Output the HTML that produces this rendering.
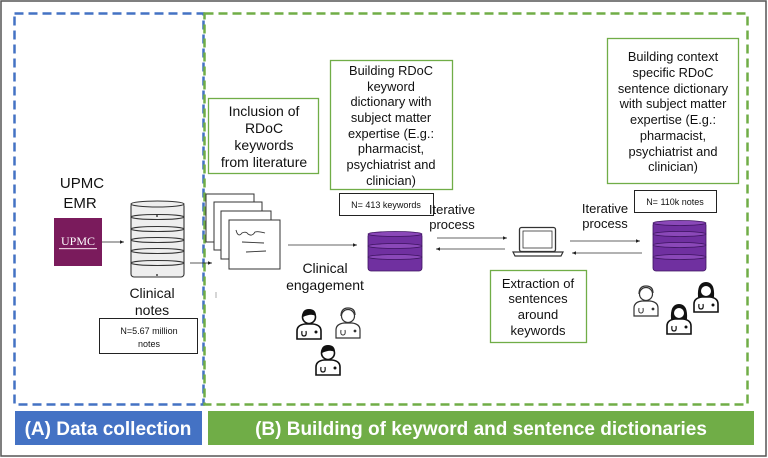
<!DOCTYPE html>
<html><head><meta charset="utf-8"><style>
html,body{margin:0;padding:0;background:#fff}
svg{display:block}
text{font-family:"Liberation Sans",sans-serif;fill:#111}
</style></head><body>
<svg width="768" height="458" viewBox="0 0 768 458" xmlns="http://www.w3.org/2000/svg">
<defs>
<marker id="ah" markerWidth="6" markerHeight="6" refX="5" refY="3" orient="auto"><path d="M0,0.8 L5,3 L0,5.2 z" fill="#222"/></marker>
<g id="docF">
<path d="M2,32 L2,24 Q2,18 10,17 L18,17 Q26,18 26,24 L26,32 z" fill="#fff" stroke="#111" stroke-width="1.6"/>
<circle cx="14" cy="10" r="6.5" fill="#fff" stroke="#111" stroke-width="1.6"/>
<path d="M7,10 Q7,2 14,2 Q21,2 21,9 Q16,6 8,10 z" fill="#111"/>
<path d="M7,24 Q6,29 9,29 M9,29 Q12,29 11,24" fill="none" stroke="#111" stroke-width="1.2"/>
<circle cx="21" cy="25" r="1.5" fill="#111"/>
</g>
<g id="docO">
<path d="M2,32 L2,24 Q2,18 10,17 L18,17 Q26,18 26,24 L26,32 z" fill="#fff" stroke="#333" stroke-width="1.2"/>
<circle cx="14" cy="10" r="6.5" fill="#fff" stroke="#333" stroke-width="1.2"/>
<path d="M7,10 Q7,2 14,2 Q21,2 21,9" fill="none" stroke="#333" stroke-width="1.2"/>
<path d="M7,24 Q6,29 9,29 M9,29 Q12,29 11,24" fill="none" stroke="#333" stroke-width="1"/>
<circle cx="21" cy="25" r="1.4" fill="#333"/>
</g>
<g id="docW">
<path d="M2,32 L2,24 Q2,18 10,17 L18,17 Q26,18 26,24 L26,32 z" fill="#fff" stroke="#111" stroke-width="1.6"/>
<path d="M6,17 Q5,2 14,2 Q23,2 22,17 z" fill="#111"/>
<circle cx="14" cy="11" r="5" fill="#fff"/>
<path d="M7,24 Q6,29 9,29 M9,29 Q12,29 11,24" fill="none" stroke="#111" stroke-width="1.2"/>
<circle cx="21" cy="25" r="1.5" fill="#111"/>
</g>
</defs>
<rect x="1" y="1" width="765" height="455" fill="none" stroke="#555" stroke-width="1.5"/>
<rect x="14.5" y="13.5" width="189" height="391" fill="none" stroke="#4472c4" stroke-width="2.5" stroke-dasharray="9,5"/>
<rect x="204.5" y="13.5" width="543" height="391" fill="none" stroke="#70ad47" stroke-width="2.5" stroke-dasharray="9,5"/>
<rect x="15" y="411" width="187" height="34" fill="#4472c4"/>
<text x="108" y="435" text-anchor="middle" font-size="19" font-weight="bold" style="fill:#fff">(A) Data collection</text>
<rect x="208" y="411" width="546" height="34" fill="#70ad47"/>
<text x="481" y="435" text-anchor="middle" font-size="19" font-weight="bold" style="fill:#fff">(B) Building of keyword and sentence dictionaries</text>
<text x="82" y="188" text-anchor="middle" font-size="15">UPMC</text>
<text x="80" y="208" text-anchor="middle" font-size="15">EMR</text>
<rect x="54" y="218" width="48" height="48" fill="#7a1b5c"/>
<text x="78" y="245" text-anchor="middle" font-size="12" style="fill:#fff;font-family:'Liberation Serif',serif">UPMC</text>
<rect x="59" y="248" width="38" height="1.2" fill="#e8c8dc"/>
<line x1="102" y1="242" x2="124" y2="242" stroke="#222" stroke-width="0.8" marker-end="url(#ah)"/>
<g fill="#eee" stroke="#333" stroke-width="1.1">
<rect x="131" y="203" width="53" height="74" rx="3"/>
<ellipse cx="157.5" cy="204" rx="26.5" ry="3"/>
<ellipse cx="157.5" cy="217" rx="26.5" ry="2.5"/>
<ellipse cx="157.5" cy="229" rx="26.5" ry="2.5"/>
<ellipse cx="157.5" cy="240" rx="26.5" ry="2.5"/>
<ellipse cx="157.5" cy="251" rx="26.5" ry="2.5"/>
<ellipse cx="157.5" cy="263" rx="26.5" ry="2.5"/>
</g>
<circle cx="157" cy="216" r="0.9" fill="#111"/><circle cx="157" cy="275" r="0.9" fill="#111"/>
<text x="152" y="298" text-anchor="middle" font-size="14">Clinical</text>
<text x="152" y="315" text-anchor="middle" font-size="14">notes</text>
<rect x="99.5" y="318.5" width="98" height="35" fill="#fff" stroke="#222" stroke-width="1"/>
<text x="149" y="334" text-anchor="middle" font-size="9">N=5.67 million</text>
<text x="149" y="347" text-anchor="middle" font-size="9">notes</text>
<line x1="190" y1="263" x2="212" y2="263" stroke="#222" stroke-width="0.8" marker-end="url(#ah)"/>
<g fill="#fff" stroke="#333" stroke-width="1">
<rect x="206" y="194" width="48" height="48"/>
<rect x="214" y="202" width="48" height="48"/>
<rect x="221" y="211" width="50" height="48"/>
<rect x="229" y="220" width="51" height="49"/>
</g>
<path d="M236,230 Q238,238 242,233 Q246,231 248,234 Q252,237 255,232 Q258,231 265,233" fill="none" stroke="#333" stroke-width="0.9"/>
<line x1="242" y1="242" x2="264" y2="243" stroke="#333" stroke-width="0.9"/>
<line x1="246" y1="252" x2="266" y2="251" stroke="#333" stroke-width="0.9"/>
<line x1="216" y1="292" x2="216" y2="298" stroke="#999" stroke-width="0.8"/>
<rect x="208.5" y="98.5" width="110" height="75" fill="#fff" stroke="#70ad47" stroke-width="1.3"/>
<g font-size="14" text-anchor="middle">
<text x="264" y="116">Inclusion of</text>
<text x="264" y="133">RDoC</text>
<text x="264" y="150">keywords</text>
<text x="264" y="167">from literature</text>
</g>
<rect x="330.5" y="60.5" width="122" height="129" fill="#fff" stroke="#70ad47" stroke-width="1.3"/>
<g font-size="12.8" text-anchor="middle">
<text x="391" y="75">Building RDoC</text>
<text x="391" y="91">keyword</text>
<text x="391" y="106">dictionary with</text>
<text x="391" y="122">subject matter</text>
<text x="391" y="138">expertise (E.g.:</text>
<text x="391" y="153">pharmacist,</text>
<text x="391" y="169">psychiatrist and</text>
<text x="391" y="185">clinician)</text>
</g>
<rect x="339.5" y="193.5" width="94" height="22" fill="#fff" stroke="#222" stroke-width="1"/>
<text x="386" y="208" text-anchor="middle" font-size="9">N= 413 keywords</text>
<line x1="288" y1="245" x2="357" y2="245" stroke="#333" stroke-width="0.8" marker-end="url(#ah)"/>
<text x="325" y="273" text-anchor="middle" font-size="14">Clinical</text>
<text x="325" y="290" text-anchor="middle" font-size="14">engagement</text>
<g fill="#7030a0" stroke="#3d1460" stroke-width="0.8">
<rect x="368" y="233" width="54" height="38" rx="3"/>
<ellipse cx="395" cy="234" rx="27" ry="2.5" fill="#8a48b8"/>
<ellipse cx="395" cy="246" rx="27" ry="2.5" fill="#8a48b8"/>
<ellipse cx="395" cy="257" rx="27" ry="2.5" fill="#8a48b8"/>
</g>
<use href="#docF" x="295" y="307"/>
<use href="#docO" x="334" y="306"/>
<use href="#docF" x="314" y="343"/>
<text x="452" y="214" text-anchor="middle" font-size="13">Iterative</text>
<text x="452" y="229" text-anchor="middle" font-size="13">process</text>
<line x1="437" y1="238" x2="507" y2="238" stroke="#333" stroke-width="0.8" marker-end="url(#ah)"/>
<line x1="505" y1="249" x2="436" y2="249" stroke="#333" stroke-width="0.8" marker-end="url(#ah)"/>
<rect x="519.5" y="227.5" width="36" height="24" rx="2" fill="#fff" stroke="#333" stroke-width="1.3"/>
<rect x="523" y="231" width="29" height="17" fill="#fff" stroke="#333" stroke-width="0.8"/>
<path d="M513,252 L563,252 L561,256 L515,256 z" fill="#fff" stroke="#333" stroke-width="1.2"/>
<rect x="490.5" y="270.5" width="96" height="72" fill="#fff" stroke="#70ad47" stroke-width="1.3"/>
<g font-size="13" text-anchor="middle">
<text x="538" y="288">Extraction of</text>
<text x="538" y="303">sentences</text>
<text x="538" y="319">around</text>
<text x="538" y="335">keywords</text>
</g>
<text x="605" y="213" text-anchor="middle" font-size="13">Iterative</text>
<text x="605" y="228" text-anchor="middle" font-size="13">process</text>
<line x1="570" y1="241" x2="640" y2="241" stroke="#333" stroke-width="0.8" marker-end="url(#ah)"/>
<line x1="642" y1="253" x2="572" y2="253" stroke="#333" stroke-width="0.8" marker-end="url(#ah)"/>
<rect x="634.5" y="190.5" width="82" height="22" fill="#fff" stroke="#222" stroke-width="1"/>
<text x="675" y="205" text-anchor="middle" font-size="9">N= 110k notes</text>
<rect x="607.5" y="38.5" width="131" height="145" fill="#fff" stroke="#70ad47" stroke-width="1.3"/>
<g font-size="12.8" text-anchor="middle">
<text x="673" y="61">Building context</text>
<text x="673" y="77">specific RDoC</text>
<text x="673" y="93">sentence dictionary</text>
<text x="673" y="108">with subject matter</text>
<text x="673" y="124">expertise (E.g.:</text>
<text x="673" y="140">pharmacist,</text>
<text x="673" y="156">psychiatrist and</text>
<text x="673" y="171">clinician)</text>
</g>
<g fill="#7030a0" stroke="#3d1460" stroke-width="0.8">
<rect x="653" y="222" width="53" height="49" rx="3"/>
<ellipse cx="679.5" cy="223" rx="26.5" ry="2.5" fill="#8a48b8"/>
<ellipse cx="679.5" cy="234" rx="26.5" ry="2.5" fill="#8a48b8"/>
<ellipse cx="679.5" cy="245" rx="26.5" ry="2.5" fill="#8a48b8"/>
<ellipse cx="679.5" cy="257" rx="26.5" ry="2.5" fill="#8a48b8"/>
</g>
<use href="#docO" x="632" y="284"/>
<use href="#docW" x="665" y="302"/>
<use href="#docW" x="692" y="280"/>
</svg>
</body></html>
